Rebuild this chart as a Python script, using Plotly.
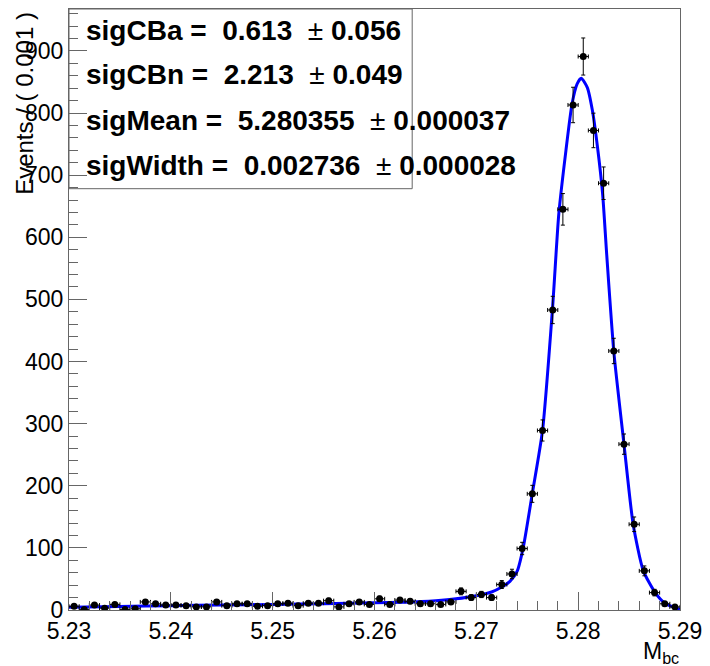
import plotly.graph_objects as go
import math

# ---- data ----
bin_width = 0.001
x_lo, x_hi = 5.23, 5.29
bin_centers = [round(5.2305 + i * bin_width, 4) for i in range(60)]
counts = [6, 1, 8, 3, 9, 1, 2, 13, 10, 8,
          8, 7, 5, 5, 13, 7, 10, 10, 6, 7,
          10, 11, 7, 11, 11, 15, 5, 10, 13, 9,
          18, 9, 16, 14, 10, 10, 9, 13, 30, 20,
          25, 20, 41, 58, 99, 187, 289, 483, 645, 813,
          891, 772, 687, 417, 267, 138, 63, 28, 10, 5]

# fitted curve
curve_x = [5.230, 5.235, 5.240, 5.245, 5.250, 5.255, 5.260, 5.263, 5.266, 5.268,
           5.270, 5.2715, 5.2725, 5.2733, 5.2740, 5.2746, 5.2755, 5.2765, 5.2775, 5.2781,
           5.2788, 5.2794, 5.2799, 5.2803, 5.2809, 5.2814, 5.2819, 5.2824, 5.2828, 5.2835,
           5.2845, 5.2854, 5.2864, 5.2876, 5.2885, 5.2900]
curve_y = [4.5, 5.5, 7, 8, 9, 10, 11.5, 12.5, 15, 18,
           23, 29, 37, 46, 62, 100, 188, 289, 490, 638,
           740, 815, 847, 856, 841, 804, 745, 670, 573, 416,
           267, 138, 63, 27, 11, 1]

param_lines = [
    ("sigCBa =  0.613  ", " 0.056"),
    ("sigCBn =  2.213  ", " 0.049"),
    ("sigMean =  5.280355  ", " 0.000037"),
    ("sigWidth =  0.002736  ", " 0.000028"),
]
param_y_px = [30, 74, 120, 165]

x_ticks = [5.23, 5.24, 5.25, 5.26, 5.27, 5.28, 5.29]
y_ticks = [0, 100, 200, 300, 400, 500, 600, 700, 800, 900]

# ---- geometry ----
W, H = 710, 666
L, R, T, B = 69, 685, 8, 610
pw, ph = R - L, B - T
y_max = 967.5

FONT = "Liberation Sans, Arial, Helvetica, sans-serif"
AX = "#666666"

fig = go.Figure()

fig.add_trace(go.Scatter(
    x=curve_x, y=curve_y, mode="lines",
    line=dict(color="#0000ff", width=3, shape="spline", smoothing=0.6),
    hoverinfo="skip", showlegend=False))

fig.add_trace(go.Scatter(
    x=bin_centers, y=counts, mode="markers",
    marker=dict(color="black", size=7),
    error_y=dict(type="data", array=[math.sqrt(c) for c in counts],
                 color="black", thickness=1, width=2),
    error_x=dict(type="constant", value=bin_width / 2,
                 color="black", thickness=1, width=2),
    showlegend=False))

fig.update_layout(
    width=W, height=H,
    margin=dict(l=L, r=W - R, t=T, b=H - B, pad=0),
    paper_bgcolor="white", plot_bgcolor="white",
    font=dict(family=FONT, color="black"),
    xaxis=dict(range=[x_lo, x_hi], tickmode="array", tickvals=x_ticks,
               ticktext=[f"{v:.2f}" for v in x_ticks],
               ticks="inside", ticklen=18, tickwidth=1, tickcolor=AX,
               minor=dict(ticks="inside", ticklen=9, dtick=0.002, tick0=5.23,
                          tickcolor=AX, tickwidth=1),
               showline=True, linecolor=AX, linewidth=1, mirror=True,
               showgrid=False, zeroline=False,
               tickfont=dict(size=23, family=FONT, color="black")),
    yaxis=dict(range=[0, y_max], tickmode="array", tickvals=y_ticks,
               ticktext=[str(v) for v in y_ticks],
               ticks="inside", ticklen=18, tickwidth=1, tickcolor=AX,
               minor=dict(ticks="inside", ticklen=9, dtick=20, tick0=0,
                          tickcolor=AX, tickwidth=1),
               showline=True, linecolor=AX, linewidth=1, mirror=True,
               showgrid=False, zeroline=False,
               tickfont=dict(size=23, family=FONT, color="black")),
)

def px_x(p):
    return (p - L) / pw

def px_y(p):
    return (B - p) / ph

# parameter box
fig.add_shape(type="rect", xref="paper", yref="paper",
              x0=px_x(69), x1=px_x(415), y0=px_y(188), y1=px_y(8),
              line=dict(color=AX, width=1), fillcolor="rgba(0,0,0,0)")

for (a, b), yp in zip(param_lines, param_y_px):
    txt = "<b>" + a.replace(" ", "\u00a0") + "</b>\u00b1<b>" + b.replace(" ", "\u00a0") + "</b>"
    fig.add_annotation(xref="paper", yref="paper", x=px_x(84), y=px_y(yp),
                       xanchor="left", yanchor="middle", text=txt, showarrow=False,
                       font=dict(size=28, family=FONT, color="black"))

# axis titles
fig.add_annotation(xref="paper", yref="paper", x=px_x(24), y=px_y(9),
                   xanchor="center", yanchor="top", textangle=-90,
                   text="Events / ( 0.001 )", showarrow=False,
                   font=dict(size=24, family=FONT, color="black"))
fig.add_annotation(xref="paper", yref="paper", x=px_x(686), y=px_y(636),
                   xanchor="right", yanchor="top",
                   text="M<sub>bc</sub>", showarrow=False,
                   font=dict(size=23, family=FONT, color="black"))

fig.write_html("out.html")
